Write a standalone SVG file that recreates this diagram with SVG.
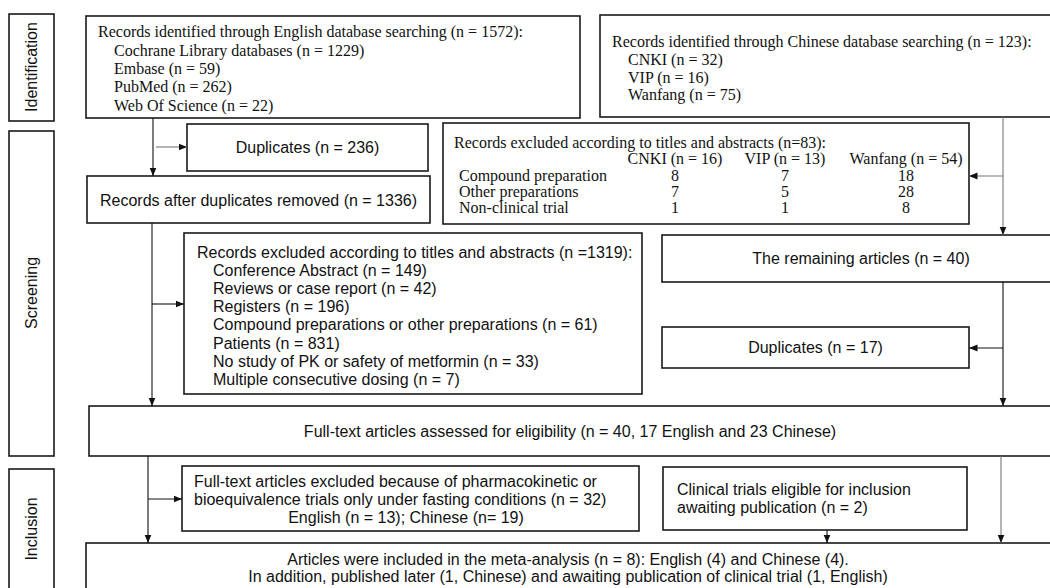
<svg xmlns="http://www.w3.org/2000/svg" width="1050" height="588" viewBox="0 0 1050 588">
<defs>
<marker id="ah" markerWidth="9" markerHeight="8" refX="8.5" refY="4" orient="auto" markerUnits="userSpaceOnUse">
<path d="M0,0.5 L8.5,4 L0,7.5 z" fill="#111"/>
</marker>
<style>
.box{fill:#fff;stroke:#1a1a1a;stroke-width:1.6}
.side{fill:#fff;stroke:#1a1a1a;stroke-width:1.6}
.ser{font-family:"Liberation Serif","Times New Roman",serif;font-size:16px;fill:#111}
.san{font-family:"Liberation Sans",Arial,sans-serif;font-size:16px;fill:#111}
.c{text-anchor:middle}
.con{fill:none;stroke:#111;stroke-width:1.1}
.gr{stroke:#777}
</style>
</defs>
<rect width="1050" height="588" fill="#fff"/>

<g id="stage-identification">
<rect class="side" x="9" y="14" width="45" height="107"/>
<text class="san c" transform="translate(37,67) rotate(-90)">Identification</text>
</g>
<g id="stage-screening">
<rect class="side" x="9" y="131" width="45" height="325"/>
<text class="san c" transform="translate(37,293) rotate(-90)">Screening</text>
</g>
<g id="stage-inclusion">
<rect class="side" x="9" y="469" width="45" height="125"/>
<text class="san c" transform="translate(37,529) rotate(-90)">Inclusion</text>
</g>

<g id="english-search">
<rect class="box" x="86" y="16" width="494" height="102"/>
<text class="ser" x="98" y="37">Records identified through English database searching (n = 1572):</text>
<text class="ser" x="114" y="56">Cochrane Library databases (n = 1229)</text>
<text class="ser" x="114" y="74">Embase (n = 59)</text>
<text class="ser" x="114" y="92">PubMed (n = 262)</text>
<text class="ser" x="114" y="111">Web Of Science (n = 22)</text>
</g>

<g id="chinese-search">
<rect class="box" x="600" y="15" width="460" height="102"/>
<text class="ser" x="612" y="47">Records identified through Chinese database searching (n = 123):</text>
<text class="ser" x="628" y="65">CNKI (n = 32)</text>
<text class="ser" x="628" y="83">VIP (n = 16)</text>
<text class="ser" x="628" y="100">Wanfang (n = 75)</text>
</g>

<g id="duplicates-236">
<rect class="box" x="187" y="124" width="241" height="47"/>
<text class="san c" x="307.5" y="153">Duplicates (n = 236)</text>
</g>

<g id="excluded-chinese">
<rect class="box" x="443" y="123" width="526" height="101"/>
<text class="ser" x="454" y="148">Records excluded according to titles and abstracts (n=83):</text>
<text class="ser c" x="675" y="164">CNKI (n = 16)</text>
<text class="ser c" x="785" y="164">VIP (n = 13)</text>
<text class="ser c" x="906" y="164">Wanfang (n = 54)</text>
<text class="ser" x="459" y="181">Compound preparation</text>
<text class="ser c" x="675" y="181">8</text>
<text class="ser c" x="785" y="181">7</text>
<text class="ser c" x="906" y="181">18</text>
<text class="ser" x="459" y="197">Other preparations</text>
<text class="ser c" x="675" y="197">7</text>
<text class="ser c" x="785" y="197">5</text>
<text class="ser c" x="906" y="197">28</text>
<text class="ser" x="459" y="213">Non-clinical trial</text>
<text class="ser c" x="675" y="213">1</text>
<text class="ser c" x="785" y="213">1</text>
<text class="ser c" x="906" y="213">8</text>
</g>

<g id="after-duplicates">
<rect class="box" x="87" y="176" width="343" height="47"/>
<text class="san c" x="258.5" y="206">Records after duplicates removed (n = 1336)</text>
</g>

<g id="excluded-english">
<rect class="box" x="184" y="233" width="458" height="161"/>
<text class="san" x="197" y="258">Records excluded according to titles and abstracts (n =1319):</text>
<text class="san" x="213" y="276">Conference Abstract (n = 149)</text>
<text class="san" x="213" y="294">Reviews or case report (n = 42)</text>
<text class="san" x="213" y="312">Registers (n = 196)</text>
<text class="san" x="213" y="330">Compound preparations or other preparations (n = 61)</text>
<text class="san" x="213" y="349">Patients (n = 831)</text>
<text class="san" x="213" y="367">No study of PK or safety of metformin (n = 33)</text>
<text class="san" x="213" y="385">Multiple consecutive dosing (n = 7)</text>
</g>

<g id="remaining">
<rect class="box" x="662" y="235" width="398" height="47"/>
<text class="san c" x="861" y="264">The remaining articles (n = 40)</text>
</g>

<g id="duplicates-17">
<rect class="box" x="662" y="327" width="307" height="41"/>
<text class="san c" x="815.5" y="353">Duplicates (n = 17)</text>
</g>

<g id="fulltext">
<rect class="box" x="89" y="406" width="971" height="50"/>
<text class="san c" x="570" y="437">Full-text articles assessed for eligibility (n = 40, 17 English and 23 Chinese)</text>
</g>

<g id="fulltext-excluded">
<rect class="box" x="182" y="466" width="457" height="65"/>
<text class="san" x="194" y="487">Full-text articles excluded because of pharmacokinetic or</text>
<text class="san" x="194" y="505">bioequivalence trials only under fasting conditions (n = 32)</text>
<text class="san c" x="406" y="523">English (n = 13); Chinese (n= 19)</text>
</g>

<g id="awaiting">
<rect class="box" x="663" y="467" width="304" height="63"/>
<text class="san" x="677" y="495">Clinical trials eligible for inclusion</text>
<text class="san" x="677" y="513">awaiting publication (n = 2)</text>
</g>

<g id="included">
<rect class="box" x="86" y="543" width="974" height="52"/>
<text class="san c" x="568" y="565">Articles were included in the meta-analysis (n = 8): English (4) and Chinese (4).</text>
<text class="san c" x="568" y="582">In addition, published later (1, Chinese) and awaiting publication of clinical trial (1, English)</text>
</g>

<g id="connectors">
<path class="con" d="M153,118 V176" marker-end="url(#ah)"/>
<path class="con gr" d="M156,147 H187" marker-end="url(#ah)"/>
<path class="con" d="M152,223 V406" marker-end="url(#ah)"/>
<path class="con" d="M152,304 H184" marker-end="url(#ah)"/>
<path class="con gr" d="M1003,117 V235" marker-end="url(#ah)"/>
<path class="con gr" d="M1003,176 H969" marker-end="url(#ah)"/>
<path class="con" d="M1003,282 V406" marker-end="url(#ah)"/>
<path class="con" d="M1003,348 H969" marker-end="url(#ah)"/>
<path class="con" d="M148,456 V543" marker-end="url(#ah)"/>
<path class="con" d="M148,499 H182" marker-end="url(#ah)"/>
<path class="con gr" d="M1001,456 V543" marker-end="url(#ah)"/>
<path class="con" d="M827,530 V543" marker-end="url(#ah)"/>
</g>
</svg>
